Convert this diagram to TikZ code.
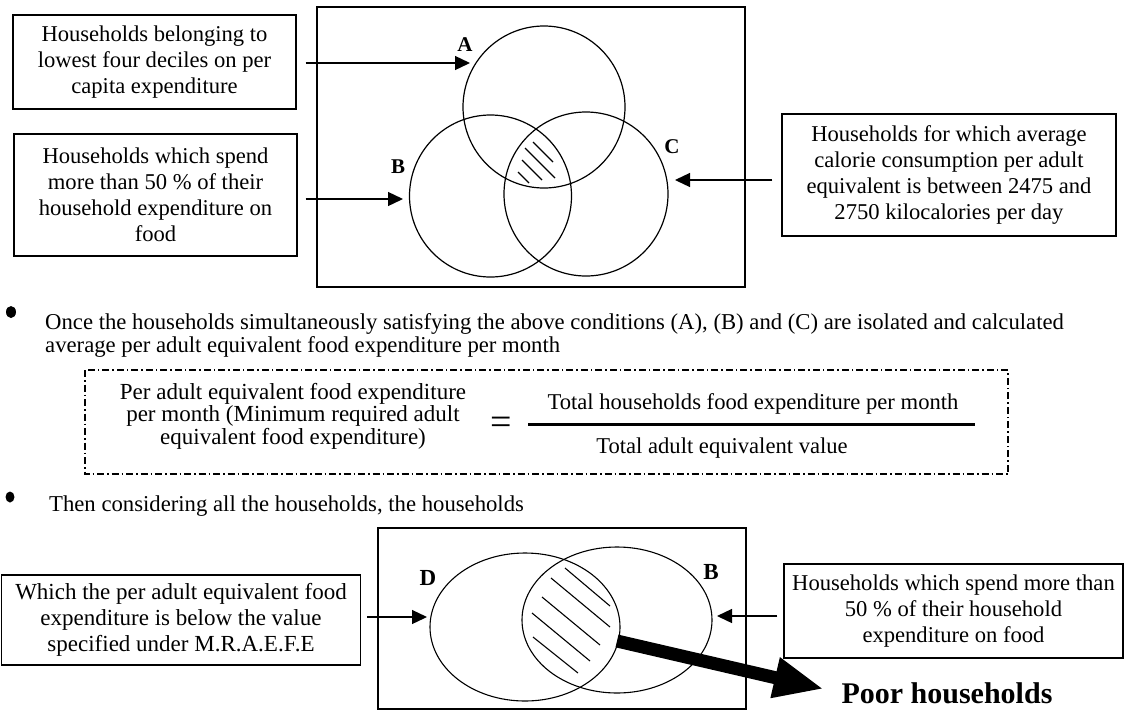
\documentclass[tikz,border=0pt]{standalone}
\usepackage{fontspec}
\setmainfont{Liberation Serif}
\usetikzlibrary{arrows.meta,shapes.geometric}
\begin{document}
\begin{tikzpicture}[x=1pt,y=-1pt,
  box/.style={draw,line width=1.4pt,inner sep=0pt,align=center,font=\fontsize{22.6}{26}\selectfont},
  frame/.style={draw,line width=1.2pt},
  venn/.style={draw,circle,line width=1.2pt,inner sep=0pt,minimum size=#1},
  ell/.style={draw,ellipse,line width=1.1pt,inner sep=0pt},
  arr/.style={line width=1.3pt,-{Triangle[length=15pt,width=14pt]}},
  hatch/.style={line width=1.1pt},
  lbl/.style={font=\fontsize{21}{21}\selectfont\bfseries,inner sep=0pt},
  body/.style={font=\fontsize{22.7}{23}\selectfont,inner sep=0pt,align=left},
  bullet/.style={ellipse,fill,inner sep=0pt,minimum width=10pt,minimum height=12pt},
  dashdot/.style={line width=1.2pt,dash pattern=on 7pt off 3pt on 1.5pt off 3pt},
]
\useasboundingbox (0,0) rectangle (1125,713);

% ---------- top Venn diagram ----------
\draw[frame] (317,7) rectangle (745,287);
\node[venn=162pt] (cA) at (544,107) {};
\node[venn=162pt] (cB) at (490.5,196) {};
\node[venn=164pt] (cC) at (586,194) {};
\node[lbl] (lA) at (465,45) {A};
\node[lbl] (lB) at (398,167) {B};
\node[lbl] (lC) at (672,147) {C};
\draw[hatch] (533,142) -- (553,162);
\draw[hatch] (525,148) -- (555,178);
\draw[hatch] (522,160) -- (542,180);
\draw[hatch] (518,172) -- (529,183);

\node[box,minimum width=283pt,minimum height=94pt] (boxA) at (154.5,62)
  {Households belonging to\\lowest four deciles on per\\capita expenditure};
\node[box,minimum width=283pt,minimum height=122pt] (boxB) at (155.5,195)
  {Households which spend\\more than 50 \% of their\\household expenditure on\\food};
\node[box,minimum width=334pt,minimum height=122pt] (boxC) at (949,175)
  {Households for which average\\calorie consumption per adult\\equivalent is between 2475 and\\2750 kilocalories per day};

\coordinate (tA) at (470,63);
\coordinate (tB) at (403,199);
\coordinate (tC) at (675,180);
\draw[arr,shorten <=9pt] (boxA.east |- tA) -- (tA);
\draw[arr,shorten <=8pt] (boxB.east |- tB) -- (tB);
\draw[arr,shorten <=9pt] (boxC.west |- tC) -- (tC);

% ---------- middle text ----------
\node[bullet] (b1) at (11,312) {};
\node[body,anchor=west] (t1) at (45,335)
  {Once the households simultaneously satisfying the above conditions (A), (B) and (C) are isolated and calculated\\average per adult equivalent food expenditure per month};

\draw[dashdot] (85,370) rectangle (1008,474);
\node[align=center,inner sep=0pt,font=\fontsize{23}{22.5}\selectfont] (lhs) at (293,416)
  {Per adult equivalent food expenditure\\per month (Minimum required adult\\equivalent food expenditure)};
\node[inner sep=0pt,font=\fontsize{38}{38}\selectfont] (eq) at (501,426) {=};
\coordinate (fL) at (528,424);
\coordinate (fR) at (975,424);
\draw[line width=3pt] (fL) -- (fR);
\node[inner sep=0pt,font=\fontsize{22.6}{26}\selectfont] (num) at (753,404) {Total households food expenditure per month};
\node[inner sep=0pt,font=\fontsize{22.6}{26}\selectfont] (den) at (722,448) {Total adult equivalent value};

% ---------- bottom part ----------
\node[bullet,minimum width=9pt,minimum height=11pt] (b2) at (10,497) {};
\node[body,anchor=west] (t2) at (49,506) {Then considering all the households, the households};

\draw[frame] (378,528) rectangle (746,709);
\node[ell,minimum width=190pt,minimum height=148pt] (eD) at (525,627) {};
\node[ell,minimum width=190pt,minimum height=146pt] (eB) at (617,620) {};
\node[lbl,font=\fontsize{23}{23}\selectfont\bfseries] (lD) at (428,578) {D};
\node[lbl,font=\fontsize{23}{23}\selectfont\bfseries] (lB2) at (711,572) {B};
\draw[hatch] (565,568) -- (610,606);
\draw[hatch] (551,578) -- (610,627);
\draw[hatch] (542,597) -- (600,645);
\draw[hatch] (532,613) -- (590,661);
\draw[hatch] (533,637) -- (578,673);

\node[box,font=\fontsize{23}{26}\selectfont,minimum width=359pt,minimum height=90pt] (boxD) at (181,620)
  {Which the per adult equivalent food\\expenditure is below the value\\specified under M.R.A.E.F.E};
\node[box,minimum width=339pt,minimum height=94pt] (boxE) at (953.5,611)
  {Households which spend more than\\50 \% of their household\\expenditure on food};

\coordinate (tD) at (427,617);
\coordinate (tB2) at (717,616);
\draw[arr,shorten <=6pt] (boxD.east |- tD) -- (tD);
\draw[arr,shorten <=6pt] (boxE.west |- tB2) -- (tB2);

\node[inner sep=0pt,font=\fontsize{30}{30}\selectfont\bfseries] (poor) at (947,693) {Poor households};
\coordinate (pS) at (617,641);
\draw[line width=13pt,-{Triangle[length=50pt,width=38pt]},shorten >=18pt] (pS) -- (poor.west);
\end{tikzpicture}
\end{document}
